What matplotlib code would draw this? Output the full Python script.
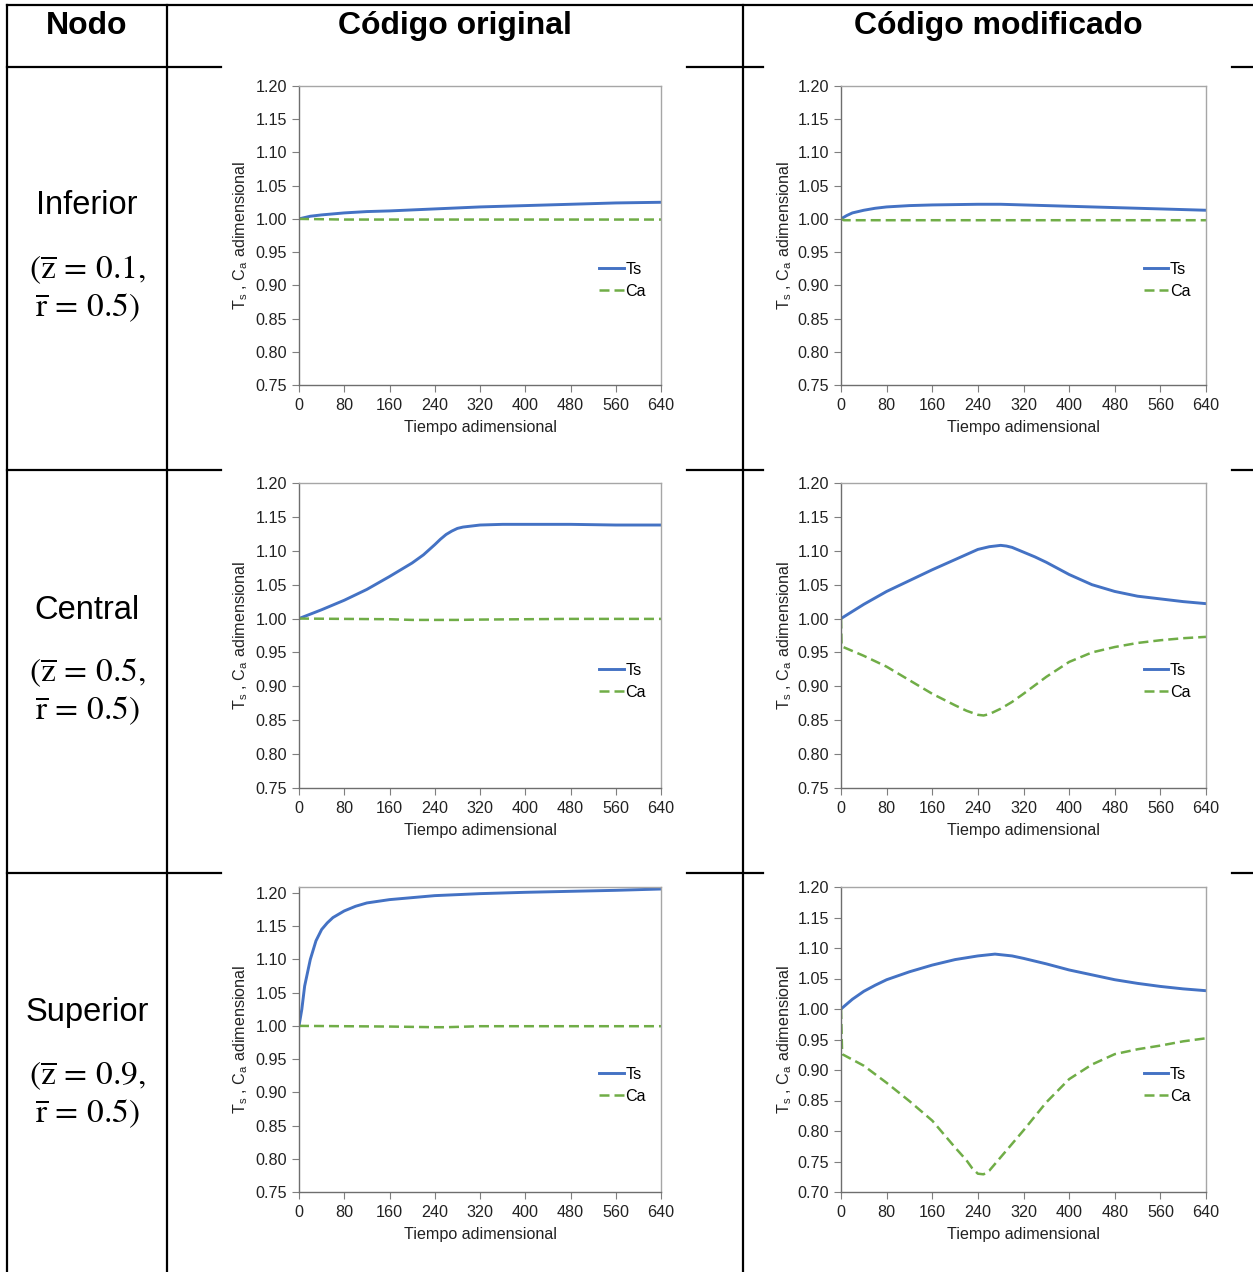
import matplotlib
matplotlib.use('Agg')
import matplotlib.pyplot as plt
from matplotlib.lines import Line2D

plt.rcParams['font.family'] = ['Liberation Sans', 'DejaVu Sans']
plt.rcParams['mathtext.fontset'] = 'stix'

W, H = 1253, 1272

# ---- data ----
x_ticks = [0, 80, 160, 240, 320, 400, 480, 560, 640]

# Inferior, original
inf_orig_t = [0, 10, 20, 40, 80, 120, 160, 240, 320, 400, 480, 560, 640]
inf_orig_ts = [1.000, 1.002, 1.004, 1.006, 1.009, 1.011, 1.012, 1.015, 1.018, 1.020, 1.022, 1.024, 1.025]
inf_orig_ct = [0, 80, 160, 240, 320, 400, 480, 560, 640]
inf_orig_ca = [1.000, 0.999, 0.999, 0.999, 0.999, 0.999, 0.999, 0.999, 0.999]

# Inferior, modificado
inf_mod_t = [0, 10, 20, 40, 60, 80, 120, 160, 240, 280, 320, 400, 480, 560, 640]
inf_mod_ts = [1.000, 1.005, 1.009, 1.013, 1.016, 1.018, 1.020, 1.021, 1.022, 1.022, 1.021, 1.019, 1.017, 1.015, 1.013]
inf_mod_ct = [0, 5, 80, 160, 240, 320, 400, 480, 560, 640]
inf_mod_ca = [1.000, 0.998, 0.998, 0.998, 0.998, 0.998, 0.998, 0.998, 0.998, 0.998]

# Central, original
cen_orig_t = [0, 40, 80, 120, 160, 200, 220, 240, 250, 260, 270, 280, 290, 300, 320, 360, 480, 560, 640]
cen_orig_ts = [1.000, 1.013, 1.027, 1.043, 1.062, 1.082, 1.094, 1.109, 1.117, 1.124, 1.129, 1.133, 1.135, 1.136, 1.138, 1.139, 1.139, 1.138, 1.138]
cen_orig_ct = [0, 80, 160, 200, 240, 280, 320, 400, 480, 560, 640]
cen_orig_ca = [1.000, 0.9995, 0.999, 0.998, 0.998, 0.998, 0.9985, 0.999, 0.9995, 0.9995, 0.9995]

# Central, modificado
cen_mod_t = [0, 40, 80, 120, 160, 200, 240, 260, 270, 280, 290, 300, 320, 340, 360, 380, 400, 440, 480, 520, 560, 600, 640]
cen_mod_ts = [1.000, 1.021, 1.040, 1.056, 1.072, 1.087, 1.102, 1.106, 1.107, 1.108, 1.107, 1.105, 1.098, 1.091, 1.083, 1.074, 1.065, 1.050, 1.040, 1.033, 1.029, 1.025, 1.022]
cen_mod_ct = [0, 1, 40, 80, 120, 160, 200, 220, 240, 250, 260, 280, 300, 320, 360, 400, 440, 480, 520, 560, 600, 640]
cen_mod_ca = [1.000, 0.959, 0.945, 0.929, 0.909, 0.889, 0.872, 0.864, 0.858, 0.857, 0.859, 0.867, 0.877, 0.889, 0.914, 0.936, 0.950, 0.958, 0.964, 0.968, 0.971, 0.973]

# Superior, original
sup_orig_t = [0, 5, 10, 20, 30, 40, 50, 60, 80, 100, 120, 160, 200, 240, 320, 400, 480, 560, 640]
sup_orig_ts = [1.000, 1.025, 1.060, 1.100, 1.128, 1.145, 1.155, 1.163, 1.173, 1.180, 1.185, 1.190, 1.193, 1.196, 1.199, 1.201, 1.2025, 1.204, 1.206]
sup_orig_ct = [0, 80, 160, 240, 260, 320, 400, 480, 560, 640]
sup_orig_ca = [1.000, 0.9995, 0.999, 0.998, 0.998, 0.9995, 0.9995, 0.9995, 0.9995, 0.9995]

# Superior, modificado
sup_mod_t = [0, 20, 40, 60, 80, 120, 160, 200, 240, 260, 270, 280, 300, 320, 360, 400, 440, 480, 520, 560, 600, 640]
sup_mod_ts = [1.000, 1.016, 1.029, 1.039, 1.048, 1.061, 1.072, 1.081, 1.087, 1.089, 1.090, 1.089, 1.087, 1.083, 1.074, 1.064, 1.056, 1.048, 1.042, 1.037, 1.033, 1.030]
sup_mod_ct = [0, 2, 40, 80, 120, 160, 200, 220, 230, 240, 250, 260, 280, 320, 360, 400, 440, 480, 520, 560, 600, 640]
sup_mod_ca = [1.000, 0.926, 0.907, 0.879, 0.849, 0.817, 0.773, 0.752, 0.739, 0.730, 0.729, 0.735, 0.757, 0.801, 0.847, 0.885, 0.909, 0.926, 0.934, 0.940, 0.947, 0.952]

row_names = ['Inferior', 'Central', 'Superior']
z_vals = ['0.1', '0.5', '0.9']
headers = ['Nodo', 'Código original', 'Código modificado']

panels = [
    [(inf_orig_t, inf_orig_ts, inf_orig_ct, inf_orig_ca, (0.75, 1.20)),
     (inf_mod_t, inf_mod_ts, inf_mod_ct, inf_mod_ca, (0.75, 1.20))],
    [(cen_orig_t, cen_orig_ts, cen_orig_ct, cen_orig_ca, (0.75, 1.20)),
     (cen_mod_t, cen_mod_ts, cen_mod_ct, cen_mod_ca, (0.75, 1.20))],
    [(sup_orig_t, sup_orig_ts, sup_orig_ct, sup_orig_ca, (0.75, 1.209)),
     (sup_mod_t, sup_mod_ts, sup_mod_ct, sup_mod_ca, (0.70, 1.20))],
]

# axes boxes in pixels
col_px = [(299, 661), (841, 1206)]
row_px = [(86, 385), (483, 788), (887, 1192)]
row_lines = [67, 470, 873]
row_text_y = [(206, 270, 308), (610, 673, 711), (1013, 1076, 1114)]


def fx(x):
    return x / W


def fy(y):
    return 1 - y / H


fig = plt.figure(figsize=(W / 100, H / 100), dpi=100)

# table lines
def hline(y, x0, x1):
    fig.add_artist(Line2D([fx(x0), fx(x1)], [fy(y), fy(y)], color='black', lw=1.6))


def vline(x, y0, y1):
    fig.add_artist(Line2D([fx(x), fx(x)], [fy(y0), fy(y1)], color='black', lw=1.6))


hline(5, 7, W)
for y in row_lines:
    hline(y, 7, 221)
    hline(y, 687, 763)
    hline(y, 1232, W)
for x in [7, 167, 743]:
    vline(x, 5, H)

# header texts
fig.text(fx(87), fy(26), headers[0], ha='center', va='center', fontsize=23, fontweight='bold')
fig.text(fx(455), fy(26), headers[1], ha='center', va='center', fontsize=23, fontweight='bold')
fig.text(fx(998), fy(26), headers[2], ha='center', va='center', fontsize=23, fontweight='bold')

for i in range(3):
    y1, y2, y3 = row_text_y[i]
    fig.text(fx(87), fy(y1), row_names[i], ha='center', va='center', fontsize=23.5)
    fig.text(fx(87), fy(y2), r'$(\overline{\mathrm{z}}\,=\,' + z_vals[i] + ',$',
             ha='center', va='center', fontsize=24)
    fig.text(fx(87), fy(y3), r'$\overline{\mathrm{r}}\,=\,0.5)$',
             ha='center', va='center', fontsize=24)

blue = '#4472C4'
green = '#70AD47'
fs = 11.6

for i in range(3):
    for j in range(2):
        t_ts, ts, t_ca, ca, ylim = panels[i][j]
        x0, x1 = col_px[j]
        ytop, ybot = row_px[i]
        ax = fig.add_axes([fx(x0), fy(ybot), fx(x1) - fx(x0), (ybot - ytop) / H])
        ax.plot(t_ts, ts, color=blue, lw=2.1, label='Ts', solid_joinstyle='round')
        ax.plot(t_ca, ca, color=green, lw=1.8, dashes=(4, 2), label='Ca', dash_joinstyle='round')
        ax.set_xlim(0, 640)
        ax.set_ylim(*ylim)
        ax.set_xticks(x_ticks)
        lo = ylim[0]
        yt = []
        v = lo
        while v <= 1.2001:
            yt.append(round(v, 2))
            v += 0.05
        ax.set_yticks(yt)
        ax.set_yticklabels([f'{v:.2f}' for v in yt])
        ax.tick_params(labelsize=fs, length=5, width=0.8, color='#7f7f7f', labelcolor='#222222', pad=3.5)
        ax.tick_params(axis='x', pad=4.5)
        for side in ['top', 'right']:
            ax.spines[side].set_color('#a6a6a6')
            ax.spines[side].set_linewidth(1.0)
        for side in ['left', 'bottom']:
            ax.spines[side].set_color('#6e6e6e')
            ax.spines[side].set_linewidth(1.0)
        ax.set_xlabel('Tiempo adimensional', fontsize=fs, labelpad=5, color='#222222')
        ax.set_ylabel(r'T$_\mathregular{s}$ , C$_\mathregular{a}$ adimensional', fontsize=fs, color='#222222')
        ax.yaxis.set_label_coords(-0.135 if j == 0 else -0.13, 0.5)
        ax.legend(loc='center left', bbox_to_anchor=(0.83, 0.35), frameon=False,
                  fontsize=fs, handlelength=1.5, handletextpad=0.1, borderpad=0,
                  borderaxespad=0, labelspacing=0.45)

fig.savefig('out.png', dpi=100)
